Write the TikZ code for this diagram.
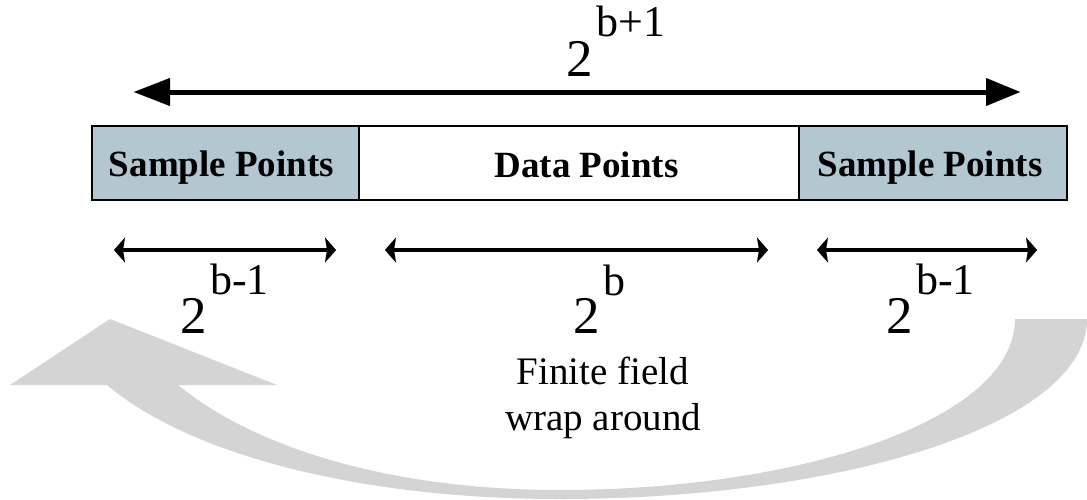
\documentclass[tikz,border=0pt]{standalone}
\usepackage{fontspec}
\setmainfont{Liberation Serif}
\usetikzlibrary{arrows.meta}
\definecolor{cellfill}{RGB}{179,199,209}
\definecolor{wrapgray}{RGB}{212,212,212}
\newcommand{\powlabel}[2]{{\fontsize{53}{60}\selectfont 2}\kern3pt\raisebox{#2}{\fontsize{44}{50}\selectfont #1}}
\begin{document}
\begin{tikzpicture}[x=1pt,y=-1pt,
  cell/.style={draw=black,line width=2pt,inner sep=0pt,minimum height=74pt},
  celltext/.style={anchor=base,inner sep=0pt,font=\fontsize{37}{42}\selectfont\bfseries},
  powtext/.style={anchor=base west,inner sep=0pt},
  notetext/.style={anchor=base,inner sep=0pt,font=\fontsize{39}{44}\selectfont},
  spanarrow/.style={line width=5pt,
    {Triangle[length=36pt,width=28pt,line width=0.1pt]}-{Triangle[length=34pt,width=28pt,line width=0.1pt]}},
  dimarrow/.style={line width=4.5pt,
    {Stealth[length=11pt,width=25pt,inset=2pt,line width=0.1pt]}-{Stealth[length=11pt,width=25pt,inset=2pt,line width=0.1pt]}}]
\useasboundingbox (0,0) rectangle (1087,499);

% wrap-around arrow underneath everything
\fill[wrapgray] (1087,319) .. controls (1087,425) and (840,499) .. (560,499)
  .. controls (360,499) and (190,455) .. (107,385)
  -- (10,385) -- (110,319) -- (277,385) -- (178,385)
  .. controls (260,452) and (400,490) .. (560,490)
  .. controls (800,490) and (1015,420) .. (1015,319) -- cycle;

% overall span
\coordinate (topL) at (134,92);
\coordinate (topR) at (1020,92);
\draw[spanarrow] (topL) -- (topR);
\node[powtext] (toplabel) at (566.5,76) {\powlabel{b+1}{40pt}};

% the three cells
\node[cell,fill=cellfill,minimum width=267pt] (leftcell) at (225.5,163) {};
\node[cell,fill=white,minimum width=440pt] (midcell) at (579,163) {};
\node[cell,fill=cellfill,minimum width=268pt] (rightcell) at (933,163) {};
\node[celltext] (lefttext) at (221.5,176) {Sample Points};
\node[celltext] (midtext) at (586.5,177) {Data Points};
\node[celltext] (righttext) at (930,176) {Sample Points};

% part sizes
\coordinate (aL) at (114,250);
\coordinate (aR) at (336,250);
\coordinate (bL) at (385,250);
\coordinate (bR) at (768,250);
\coordinate (cL) at (817,250);
\coordinate (cR) at (1037,250);
\draw[dimarrow] (aL) -- (aR);
\draw[dimarrow] (bL) -- (bR);
\draw[dimarrow] (cL) -- (cR);
\node[powtext] (leftlabel) at (180.5,333) {\powlabel{b-1}{39pt}};
\node[powtext] (midlabel) at (573.5,333) {\powlabel{b}{38pt}};
\node[powtext] (rightlabel) at (886.5,333) {\powlabel{b-1}{39pt}};

% note
\node[notetext] (note1) at (603,384) {Finite field};
\node[notetext] (note2) at (603,430) {wrap around};
\end{tikzpicture}
\end{document}
